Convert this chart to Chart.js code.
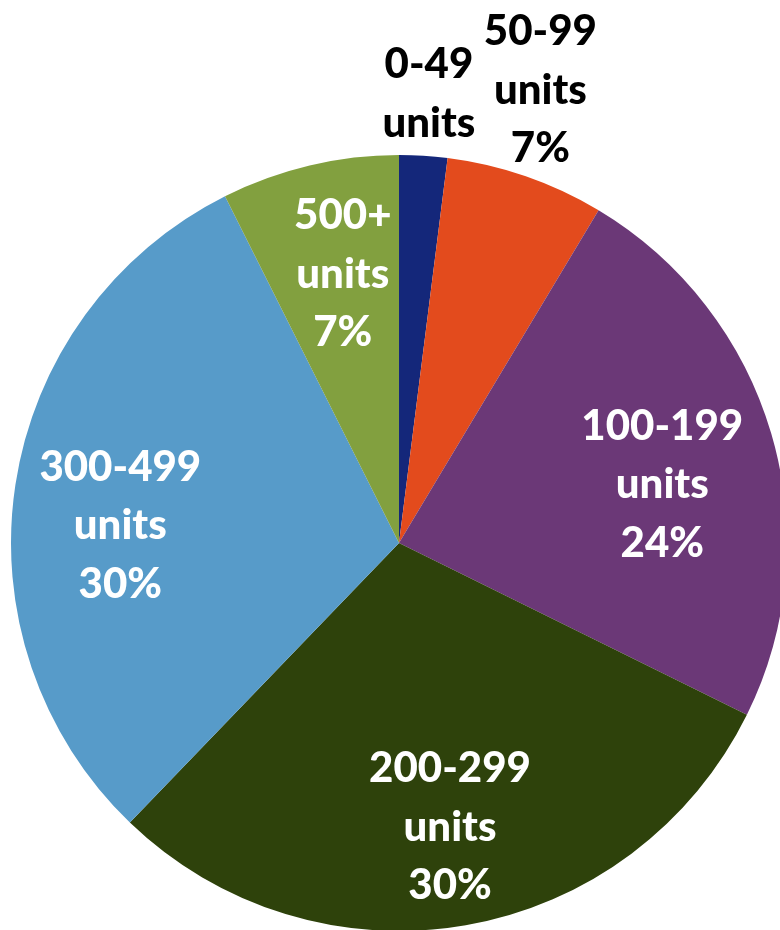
<!DOCTYPE html>
<html>
<head>
<meta charset="utf-8">
<script src="https://cdn.jsdelivr.net/npm/chart.js@4.4.1/dist/chart.umd.min.js"></script>
<style>
  html, body { margin: 0; padding: 0; background: #ffffff; overflow: hidden; width: 780px; height: 930px; }
  #wrap { position: absolute; left: 0; top: 0; width: 790px; height: 935px; }
</style>
</head>
<body>
<div id="wrap"><canvas id="c"></canvas></div>
<script>
const categories = ["0-49", "50-99", "100-199", "200-299", "300-499", "500+"];
const shares = [2.0, 6.6, 23.7, 29.9, 30.4, 7.4];
const pctLabels = ["", "7%", "24%", "30%", "30%", "7%"];
const sliceColors = ["#14277A", "#E34B1D", "#6B3877", "#2E420B", "#579BC9", "#82A03F"];
const labelColors = ["#000000", "#000000", "#ffffff", "#ffffff", "#ffffff", "#ffffff"];
// label placement: radial factor (of radius) and angle tweak (deg) from slice mid-angle
const labelRadial = [1.165, 1.227, 0.696, 0.739, 0.72, 0.713];
const labelAngleTweak = [0.2, -1.8, 3.5, -0.35, -4.7, 1.6];

const labelPlugin = {
  id: 'sliceLabels',
  afterDraw(chart) {
    const ctx = chart.ctx;
    const meta = chart.getDatasetMeta(0);
    ctx.save();
    ctx.font = '900 42px Lato';
    ctx.textAlign = 'center';
    ctx.textBaseline = 'middle';
    meta.data.forEach((arc, i) => {
      const p = arc.getProps(['x', 'y', 'startAngle', 'endAngle', 'outerRadius'], true);
      const mid = (p.startAngle + p.endAngle) / 2 + labelAngleTweak[i] * Math.PI / 180;
      const r = p.outerRadius * labelRadial[i];
      const cx = p.x + Math.cos(mid) * r;
      const cy = p.y + Math.sin(mid) * r;
      const lines = [categories[i], 'units'];
      if (pctLabels[i]) lines.push(pctLabels[i]);
      const lh = 58.5;
      const top = cy - (lines.length - 1) * lh / 2;
      ctx.fillStyle = labelColors[i];
      lines.forEach((t, k) => ctx.fillText(t, cx, top + k * lh + 2));
    });
    ctx.restore();
  }
};

new Chart(document.getElementById('c'), {
  type: 'pie',
  data: {
    labels: categories,
    datasets: [{
      data: shares,
      backgroundColor: sliceColors,
      borderWidth: 0,
      hoverOffset: 0
    }]
  },
  options: {
    responsive: true,
    maintainAspectRatio: false,
    animation: false,
    layout: { padding: { left: 11, top: 155, right: 3, bottom: 4 } },
    plugins: {
      legend: { display: false },
      tooltip: { enabled: false }
    }
  },
  plugins: [labelPlugin]
});
</script>
</body>
</html>
